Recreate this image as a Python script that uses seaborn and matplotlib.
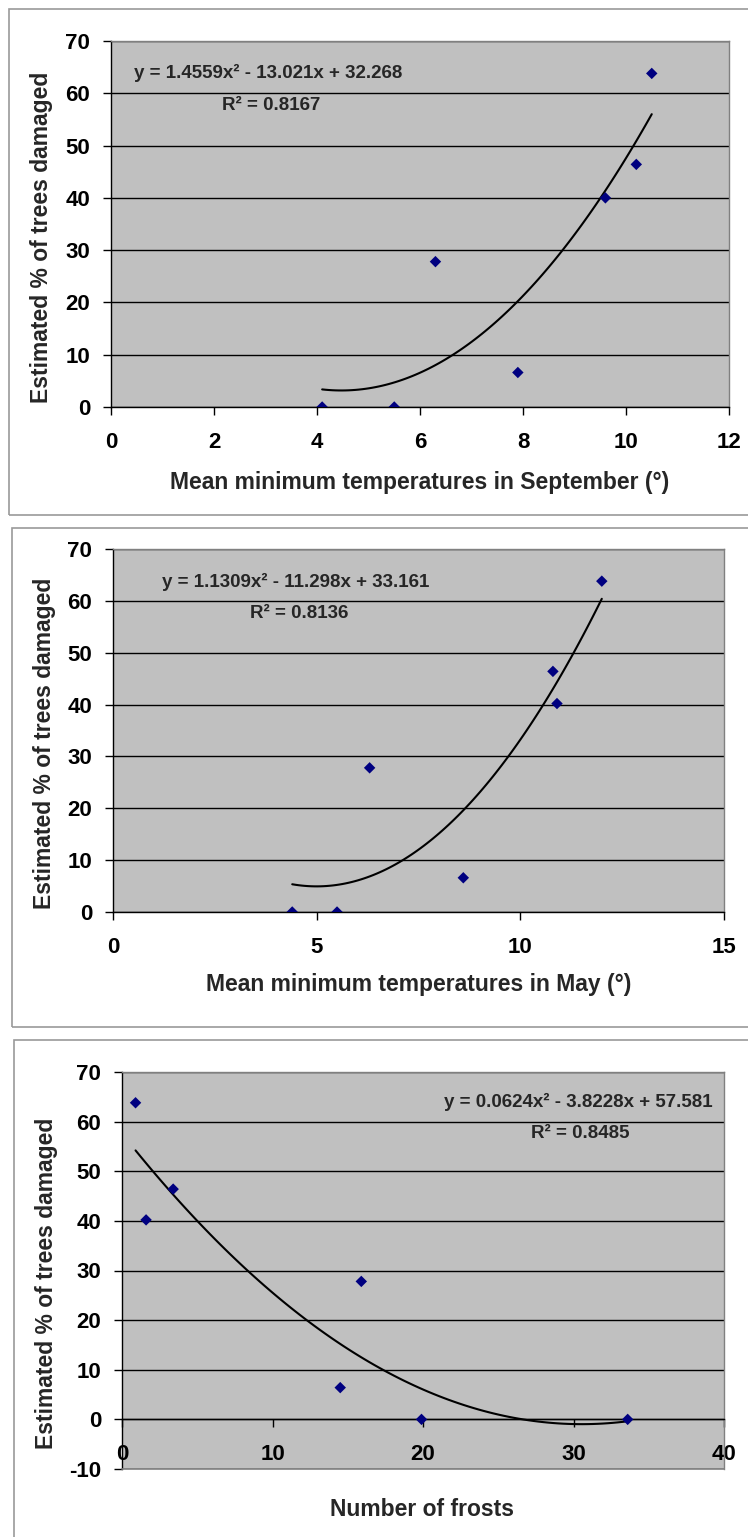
import matplotlib
matplotlib.use("Agg")
import matplotlib.pyplot as plt
from matplotlib.patches import Rectangle
import seaborn as sns

# ---- data ----
sep_temp = [4.1, 5.5, 6.3, 7.9, 9.6, 10.2, 10.5]
sep_damage = [0, 0, 27.8, 6.6, 40.0, 46.4, 63.8]
sep_eq = "y = 1.4559x² - 13.021x + 32.268"
sep_r2 = "R² = 0.8167"

may_temp = [4.4, 5.5, 6.3, 8.6, 10.8, 10.9, 12.0]
may_damage = [0, 0, 27.8, 6.6, 46.4, 40.2, 63.8]
may_eq = "y = 1.1309x² - 11.298x + 33.161"
may_r2 = "R² = 0.8136"

frosts = [0.9, 1.6, 3.4, 14.5, 15.9, 19.9, 33.6]
frost_damage = [63.8, 40.2, 46.4, 6.4, 27.8, 0, 0]
frost_eq = "y = 0.0624x² - 3.8228x + 57.581"
frost_r2 = "R² = 0.8485"

ylabel = "Estimated % of trees damaged"

W, H = 748, 1537

sns.set_theme(style="ticks")
plt.rcParams["font.family"] = ["Liberation Sans", "DejaVu Sans"]
plt.rcParams["font.weight"] = "bold"
plt.rcParams["axes.unicode_minus"] = False

fig = plt.figure(figsize=(W / 100, H / 100), dpi=100)
fig.patch.set_facecolor("white")


def fx(x):
    return x / W


def fy(y):
    return 1 - y / H


def panel(box, frame, x, y, xticks, yticks, xlab, eq, r2, lab_pos, eq_pos, r2_pos, cross_zero=False):
    # box: left, top, right, bottom of plot area in pixels
    l, t, r, b = box
    ax = fig.add_axes([fx(l), fy(b), (r - l) / W, (b - t) / H])
    ax.set_facecolor("#c0c0c0")

    sns.regplot(x=x, y=y, order=2, ci=None, scatter=False, truncate=True, ax=ax,
                line_kws=dict(color="black", lw=1.5))
    sns.scatterplot(x=x, y=y, ax=ax, marker="D", color="#000080", s=34,
                    edgecolor="none", zorder=3)

    ax.set_xlim(xticks[0], xticks[-1])
    ax.set_ylim(yticks[0], yticks[-1])
    ax.set_xticks(xticks)
    ax.set_yticks(yticks)
    ax.set_xlabel("")
    ax.set_ylabel("")
    ax.yaxis.grid(True, color="black", lw=1)

    for s in ["top", "right"]:
        ax.spines[s].set_color("#808080")
        ax.spines[s].set_linewidth(1)
    for s in ["left", "bottom"]:
        ax.spines[s].set_color("black")
        ax.spines[s].set_linewidth(1)

    ax.tick_params(axis="both", direction="out", length=6, width=1, labelsize=16, colors="black")
    ax.tick_params(axis="y", pad=9)
    ax.tick_params(axis="x", pad=12)

    if cross_zero:
        ax.spines["bottom"].set_position(("data", 0))
        ax.axhline(yticks[0], color="#808080", lw=1.2, zorder=2.6, clip_on=False)

    # outer chart frame
    fl, ft, fb = frame
    fig.patches.append(Rectangle((fx(fl), fy(fb)), 1.2, fy(ft) - fy(fb), transform=fig.transFigure,
                                 fill=False, edgecolor="#9a9a9a", lw=1.2))

    fig.text(fx(lab_pos[0]), fy(lab_pos[1]), ylabel, rotation=90, ha="center", va="center", fontsize=16.5)
    fig.text(fx(lab_pos[2]), fy(lab_pos[3]), xlab, ha="center", va="center", fontsize=16.5)
    fig.text(fx(eq_pos[0]), fy(eq_pos[1]), eq, ha="left", va="center", fontsize=13.5)
    fig.text(fx(r2_pos[0]), fy(r2_pos[1]), r2, ha="left", va="center", fontsize=13.5)
    return ax


panel((111, 41, 729, 407), (9, 9, 515), sep_temp, sep_damage,
      list(range(0, 13, 2)), list(range(0, 71, 10)),
      "Mean minimum temperatures in September (°)", sep_eq, sep_r2,
      (42, 237, 420, 482), (134, 73), (222, 105))

panel((113, 549, 724, 912), (12, 528, 1027), may_temp, may_damage,
      [0, 5, 10, 15], list(range(0, 71, 10)),
      "Mean minimum temperatures in May (°)", may_eq, may_r2,
      (45, 743, 419, 985), (162, 582), (250, 613))

panel((122, 1072, 724, 1469), (14, 1040, 1600), frosts, frost_damage,
      [0, 10, 20, 30, 40], list(range(-10, 71, 10)),
      "Number of frosts", frost_eq, frost_r2,
      (47, 1283, 422, 1509), (444, 1102), (531, 1134), cross_zero=True)

fig.savefig("out.png", dpi=100)
